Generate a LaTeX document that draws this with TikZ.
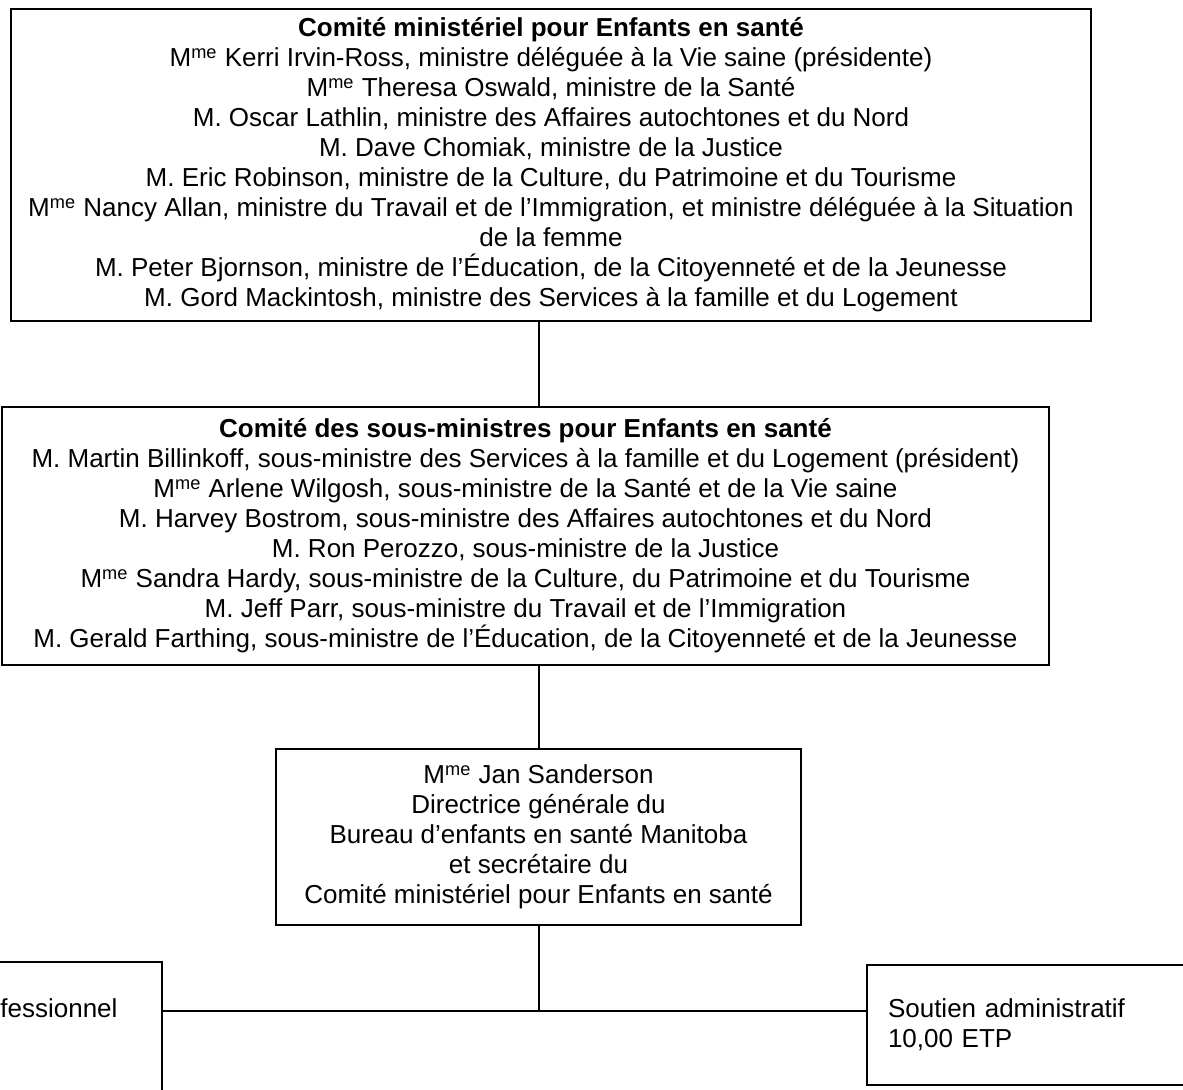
\documentclass[tikz,border=0pt]{standalone}
\usepackage{fontspec}
\setmainfont{Liberation Sans}
\usetikzlibrary{calc}

\tikzset{boite/.style={draw,line width=1pt,align=center,inner sep=0pt}}
\newcommand{\Mme}{M\textsuperscript{me}}

\begin{document}
\begin{tikzpicture}[x=0.5pt,y=-0.5pt,font=\fontsize{13}{15}\selectfont]
\useasboundingbox (0,0) rectangle (1183,1089);
\node[boite,minimum width=540pt,minimum height=156pt] (minis) at (551,165) {\textbf{Comité ministériel pour Enfants en santé}\\
\Mme{} Kerri Irvin-Ross, ministre déléguée à la Vie saine (présidente)\\
\Mme{} Theresa Oswald, ministre de la Santé\\
M. Oscar Lathlin, ministre des Affaires autochtones et du Nord\\
M. Dave Chomiak, ministre de la Justice\\
M. Eric Robinson, ministre de la Culture, du Patrimoine et du Tourisme\\
\Mme{} Nancy Allan, ministre du Travail et de l’Immigration, et ministre déléguée à la Situation\\
de la femme\\
M. Peter Bjornson, ministre de l’Éducation, de la Citoyenneté et de la Jeunesse\\
M. Gord Mackintosh, ministre des Services à la famille et du Logement};
\node[boite,minimum width=523.5pt,minimum height=129pt] (sousmin) at (525.5,536) {\textbf{Comité des sous-ministres pour Enfants en santé}\\
M. Martin Billinkoff, sous-ministre des Services à la famille et du Logement (président)\\
\Mme{} Arlene Wilgosh, sous-ministre de la Santé et de la Vie saine\\
M. Harvey Bostrom, sous-ministre des Affaires autochtones et du Nord\\
M. Ron Perozzo, sous-ministre de la Justice\\
\Mme{} Sandra Hardy, sous-ministre de la Culture, du Patrimoine et du Tourisme\\
M. Jeff Parr, sous-ministre du Travail et de l’Immigration\\
M. Gerald Farthing, sous-ministre de l’Éducation, de la Citoyenneté et de la Jeunesse};
\node[boite,minimum width=262.5pt,minimum height=88pt] (dg) at (538.5,837) {\Mme{} Jan Sanderson\\
Directrice générale du\\
Bureau d’enfants en santé Manitoba\\
et secrétaire du\\
Comité ministériel pour Enfants en santé};
\node[boite,anchor=north east,minimum width=120pt,minimum height=80pt] (prof) at (163,961) {};
\node[anchor=west,inner sep=0pt] (proftxt) at (0,1008) {fessionnel};
\node[boite,anchor=west,align=left,text width=146pt,inner xsep=10.5pt,minimum height=60pt] (admin) at (866,1025) {Soutien administratif\\
10,00 ETP};
\coordinate (jct) at (538.5,1011);
\draw[line width=1pt] (minis.south -| dg.north) -- (sousmin.north -| dg.north);
\draw[line width=1pt] (sousmin.south -| dg.north) -- (dg.north);
\draw[line width=1pt] (dg.south) -- (jct);
\draw[line width=1pt] (prof.east |- jct) -- (admin.west |- jct);
\end{tikzpicture}
\end{document}
